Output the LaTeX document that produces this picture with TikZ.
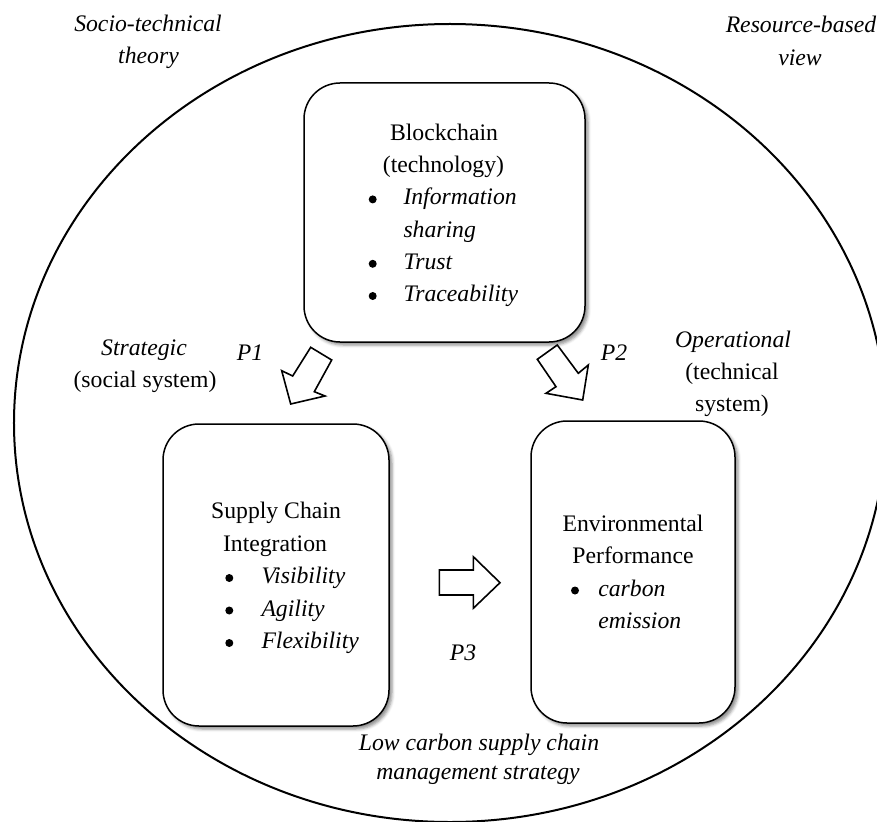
\documentclass[tikz,border=0pt]{standalone}
\usepackage{fontspec}
\setmainfont{Liberation Serif}
\usetikzlibrary{shapes.geometric,shadows.blur}
\begin{document}
\begin{tikzpicture}[x=1bp,y=-1bp,
  every node/.style={inner sep=0pt, outer sep=0pt, font=\fontsize{23.7bp}{32.4bp}\selectfont},
  box/.style={draw, line width=1.5bp, rounded corners=36bp, fill=white,
    blur shadow={shadow xshift=3bp, shadow yshift=-3bp, shadow blur radius=3bp, shadow opacity=45}},
  lbl/.style={anchor=base},
  ilbl/.style={anchor=base, font=\fontsize{23.7bp}{32.4bp}\selectfont\itshape},
  item/.style={anchor=base west, font=\fontsize{23.7bp}{32.4bp}\selectfont\itshape},
  dot/.style={circle, fill=black, minimum size=8bp, yshift=5.5bp},
  barrow/.style={draw, line width=1.6bp, fill=white, line join=miter}]
\useasboundingbox (0,0) rectangle (877,822);
% outer ellipse
\node[draw, ellipse, line width=2bp, minimum width=872bp, minimum height=798bp] (outer) at (450,423) {};
% boxes
\node[box, minimum width=281bp, minimum height=259bp] (bc) at (444.5,212.5) {};
\node[box, minimum width=226bp, minimum height=302bp] (sci) at (276,575) {};
\node[box, minimum width=204bp, minimum height=302bp] (env) at (633,572) {};
% blockchain text
\node[lbl] (bct1) at (444,140.5) {Blockchain};
\node[lbl] (bct2) at (443.5,172.7) {(technology)};
\node[dot] (bcd1) at (372.7,204.9) {};
\node[item] (bci1) at (403.5,204.9) {Information};
\node[item] (bci1b) at (403.5,237.1) {sharing};
\node[dot] (bcd2) at (372.7,269.3) {};
\node[item] (bci2) at (403.5,269.3) {Trust};
\node[dot] (bcd3) at (372.7,301.5) {};
\node[item] (bci3) at (403.5,301.5) {Traceability};
% supply chain text
\node[lbl] (sct1) at (276,518.5) {Supply Chain};
\node[lbl] (sct2) at (275,551) {Integration};
\node[dot] (scd1) at (229.3,583.5) {};
\node[item] (sci1) at (261.5,583.5) {Visibility};
\node[dot] (scd2) at (229.3,616) {};
\node[item] (sci2) at (261.5,616) {Agility};
\node[dot] (scd3) at (229.3,648.5) {};
\node[item] (sci3) at (261.5,648.5) {Flexibility};
% environmental text
\node[lbl] (ent1) at (633,531) {Environmental};
\node[lbl] (ent2) at (633,563.5) {Performance};
\node[dot] (end1) at (575,596) {};
\node[item] (eni1) at (598.3,596) {carbon};
\node[item] (eni1b) at (598.3,628.5) {emission};
% outer labels
\node[ilbl] (st1) at (148,31.5) {Socio-technical};
\node[ilbl] (st2) at (148.5,63.5) {theory};
\node[ilbl] (rb1) at (801,33) {Resource-based};
\node[ilbl] (rb2) at (800,65.5) {view};
\node[ilbl] (sg1) at (144,355) {Strategic};
\node[lbl] (sg2) at (145,387) {(social system)};
\node[ilbl] (p1) at (250,360.5) {P1};
\node[ilbl] (p2) at (614,360) {P2};
\node[ilbl] (op1) at (733,347) {Operational};
\node[lbl] (op2) at (732,379) {(technical};
\node[lbl] (op3) at (732,411) {system)};
\node[ilbl] (p3) at (463,660) {P3};
\node[ilbl] (lc1) at (479,750) {Low carbon supply chain};
\node[ilbl] (lc2) at (478,779) {management strategy};
% block arrows
\draw[barrow] (310.7,347.3) -- (331.7,360) -- (314.3,391.7) -- (325,396) -- (290.7,404) -- (281.7,370.7) -- (292.7,376) -- cycle;
\draw[barrow] (537.3,359.3) -- (557.3,345) -- (578.3,373.3) -- (588.3,365) -- (582.7,400) -- (546,393.3) -- (556,386.7) -- cycle;
\draw[barrow] (439.3,570) -- (473.3,570) -- (473.3,556.7) -- (500,582.7) -- (473.3,608.3) -- (473.3,595) -- (439.3,595) -- cycle;
\end{tikzpicture}
\end{document}
